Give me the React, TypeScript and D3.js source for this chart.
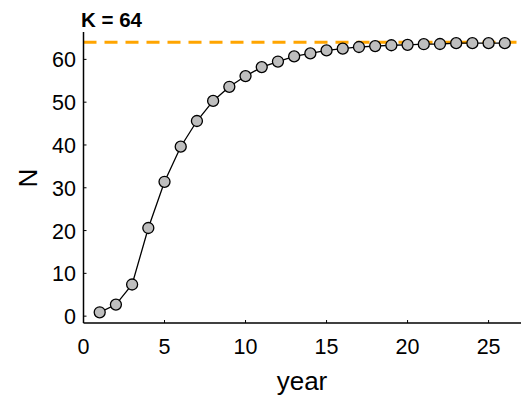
import React from "react";
import * as d3 from "d3";

const years = [1,2,3,4,5,6,7,8,9,10,11,12,13,14,15,16,17,18,19,20,21,22,23,24,25,26];
const N = [0.9,2.7,7.4,20.6,31.4,39.6,45.6,50.3,53.6,56.1,58.2,59.5,60.7,61.4,62.1,62.5,62.9,63.1,63.3,63.4,63.55,63.6,63.8,63.8,63.8,63.8];
const K = 64;
const xTicks = [0,5,10,15,20,25];
const yTicks = [0,10,20,30,40,50,60];

export default function App() {
  const W = 529, H = 396;
  const x = d3.scaleLinear().domain([0, 27]).range([83.5, 521]);
  const y = d3.scaleLinear().domain([-1.6, 66.4]).range([323, 32]);
  const line = d3.line<number>().x((_, i) => x(years[i])).y(d => y(d));
  const font = "Liberation Sans, Arial, sans-serif";
  return (
    <svg width={W} height={H} style={{ position: "absolute", left: 0, top: 0, background: "#fff" }}>
      <line x1={x(0)} x2={x(27)} y1={y(K)} y2={y(K)} stroke="#FFA500" strokeWidth={3} strokeDasharray="13,8" />
      <path d={line(N) || ""} fill="none" stroke="#000" strokeWidth={1.3} />
      {N.map((v, i) => (
        <circle key={i} cx={x(years[i])} cy={y(v)} r={5.5} fill="#BEBEBE" stroke="#000" strokeWidth={1.3} />
      ))}
      <line x1={x(0)} x2={x(27)} y1={y(-1.6)} y2={y(-1.6)} stroke="#000" strokeWidth={1.5} />
      <line x1={x(0)} x2={x(0)} y1={y(-1.6)} y2={y(66.4)} stroke="#000" strokeWidth={1.5} />
      {xTicks.map(t => (
        <g key={t}>
          <line x1={x(t)} x2={x(t)} y1={y(-1.6)} y2={y(-1.6) - 3} stroke="#000" />
          <text x={x(t)} y={354} textAnchor="middle" fontFamily={font} fontSize={21.5}>{t}</text>
        </g>
      ))}
      {yTicks.map(t => (
        <g key={t}>
          <line x1={x(0)} x2={x(0) + 3} y1={y(t)} y2={y(t)} stroke="#000" />
          <text x={76} y={y(t) + 8} textAnchor="end" fontFamily={font} fontSize={21.5}>{t}</text>
        </g>
      ))}
      <text x={302} y={390} textAnchor="middle" fontFamily={font} fontSize={26}>year</text>
      <text transform={`translate(37,178) rotate(-90)`} textAnchor="middle" fontFamily={font} fontSize={26}>N</text>
      <text x={81} y={27} fontFamily={font} fontSize={20.5} fontWeight="bold">K = 64</text>
    </svg>
  );
}
